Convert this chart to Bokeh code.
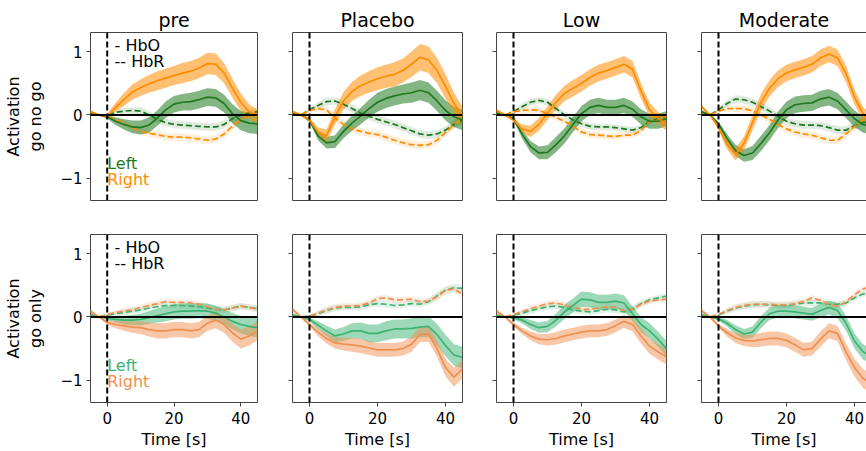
from bokeh.plotting import figure
from bokeh.layouts import row, column
from bokeh.models import Range1d, FixedTicker, LinearAxis, Span, Label
from bokeh.embed import file_html
from bokeh.resources import INLINE

# ---------------- data ----------------
TIME = [-5.0, -2.5, 0.0, 2.5, 5.0, 7.5, 10.0, 12.5, 15.0, 17.5, 20.0,
        22.5, 25.0, 27.5, 30.0, 32.5, 35.0, 37.5, 40.0, 42.5, 45.0]
CONDITIONS = ["pre", "Placebo", "Low", "Moderate"]
ROW_LABELS = ["Activation\ngo no go", "Activation\ngo only"]
Y_TICKS = [-1, 0, 1]
X_TICKS = [0, 20, 40]
X_LABEL = "Time [s]"
HB_TEXTS = ["- HbO", "-- HbR"]
SIDE_TEXTS = ["Left", "Right"]

# row 1: go no go
GNG_PRE_L_HBO = [0.03, 0.0, -0.03, -0.1, -0.15, -0.19, -0.2, -0.16, -0.05, 0.08, 0.17, 0.2, 0.21, 0.24, 0.28, 0.27, 0.18, 0.02, -0.09, -0.13, -0.14]
GNG_PRE_L_HBO_SEM = [0.03, 0.01, 0.03, 0.06, 0.08, 0.1, 0.11, 0.12, 0.12, 0.13, 0.13, 0.13, 0.14, 0.14, 0.14, 0.14, 0.14, 0.15, 0.15, 0.16, 0.16]
GNG_PRE_R_HBO = [0.05, 0.0, -0.02, 0.12, 0.24, 0.36, 0.43, 0.49, 0.54, 0.58, 0.62, 0.66, 0.69, 0.74, 0.81, 0.8, 0.66, 0.42, 0.2, 0.05, -0.03]
GNG_PRE_R_HBO_SEM = [0.03, 0.01, 0.03, 0.07, 0.1, 0.12, 0.13, 0.14, 0.15, 0.15, 0.15, 0.16, 0.16, 0.16, 0.17, 0.17, 0.16, 0.15, 0.14, 0.12, 0.11]
GNG_PRE_L_HBR = [0.02, 0.0, -0.01, 0.04, 0.06, 0.07, 0.06, 0.0, -0.07, -0.12, -0.15, -0.16, -0.17, -0.18, -0.19, -0.19, -0.15, -0.06, 0.0, 0.03, 0.05]
GNG_PRE_L_HBR_SEM = [0.02, 0.01, 0.02, 0.04, 0.05, 0.05, 0.06, 0.06, 0.06, 0.06, 0.06, 0.06, 0.06, 0.06, 0.06, 0.06, 0.06, 0.06, 0.06, 0.06, 0.06]
GNG_PRE_R_HBR = [0.02, 0.0, -0.03, -0.07, -0.13, -0.2, -0.26, -0.29, -0.31, -0.34, -0.35, -0.35, -0.36, -0.38, -0.4, -0.38, -0.3, -0.18, -0.07, 0.0, 0.05]
GNG_PRE_R_HBR_SEM = [0.02, 0.01, 0.02, 0.04, 0.05, 0.05, 0.05, 0.06, 0.06, 0.06, 0.06, 0.06, 0.06, 0.06, 0.06, 0.06, 0.06, 0.06, 0.06, 0.06, 0.06]

GNG_PLA_L_HBO = [0.02, 0.0, -0.08, -0.33, -0.44, -0.42, -0.26, -0.13, -0.02, 0.1, 0.2, 0.26, 0.3, 0.33, 0.35, 0.39, 0.35, 0.22, 0.07, -0.03, -0.08]
GNG_PLA_L_HBO_SEM = [0.03, 0.01, 0.03, 0.07, 0.09, 0.1, 0.11, 0.12, 0.13, 0.14, 0.15, 0.15, 0.15, 0.15, 0.16, 0.16, 0.16, 0.16, 0.16, 0.16, 0.16]
GNG_PLA_R_HBO = [0.05, 0.0, -0.08, -0.27, -0.33, -0.03, 0.22, 0.37, 0.46, 0.52, 0.57, 0.61, 0.64, 0.7, 0.8, 0.91, 0.87, 0.7, 0.45, 0.18, -0.02]
GNG_PLA_R_HBO_SEM = [0.03, 0.01, 0.03, 0.07, 0.1, 0.12, 0.14, 0.15, 0.16, 0.17, 0.18, 0.18, 0.19, 0.19, 0.2, 0.21, 0.21, 0.2, 0.19, 0.17, 0.15]
GNG_PLA_L_HBR = [0.02, 0.0, 0.08, 0.15, 0.21, 0.22, 0.17, 0.1, 0.03, -0.02, -0.07, -0.11, -0.15, -0.2, -0.25, -0.3, -0.32, -0.3, -0.24, -0.15, -0.08]
GNG_PLA_L_HBR_SEM = [0.02, 0.01, 0.03, 0.05, 0.06, 0.06, 0.06, 0.06, 0.06, 0.06, 0.06, 0.06, 0.06, 0.06, 0.06, 0.06, 0.06, 0.06, 0.06, 0.06, 0.06]
GNG_PLA_R_HBR = [0.02, 0.0, 0.07, 0.1, 0.08, -0.05, -0.15, -0.22, -0.26, -0.29, -0.31, -0.35, -0.4, -0.44, -0.47, -0.48, -0.47, -0.4, -0.28, -0.15, -0.06]
GNG_PLA_R_HBR_SEM = [0.02, 0.01, 0.03, 0.05, 0.06, 0.06, 0.06, 0.06, 0.06, 0.06, 0.06, 0.06, 0.06, 0.06, 0.06, 0.06, 0.06, 0.06, 0.06, 0.06, 0.06]

GNG_LOW_L_HBO = [0.03, 0.0, -0.06, -0.3, -0.5, -0.6, -0.59, -0.47, -0.33, -0.15, 0.02, 0.12, 0.15, 0.12, 0.12, 0.15, 0.09, -0.03, -0.1, -0.1, -0.06]
GNG_LOW_L_HBO_SEM = [0.03, 0.01, 0.03, 0.07, 0.09, 0.1, 0.11, 0.12, 0.12, 0.12, 0.12, 0.12, 0.12, 0.12, 0.12, 0.12, 0.12, 0.12, 0.12, 0.12, 0.12]
GNG_LOW_R_HBO = [0.07, 0.0, -0.08, -0.22, -0.26, -0.15, 0.03, 0.2, 0.34, 0.42, 0.5, 0.59, 0.66, 0.7, 0.75, 0.8, 0.72, 0.38, 0.08, -0.05, -0.15]
GNG_LOW_R_HBO_SEM = [0.03, 0.01, 0.03, 0.07, 0.09, 0.1, 0.11, 0.12, 0.12, 0.13, 0.13, 0.13, 0.13, 0.13, 0.13, 0.13, 0.13, 0.12, 0.11, 0.1, 0.1]
GNG_LOW_L_HBR = [0.02, 0.0, 0.05, 0.13, 0.2, 0.23, 0.2, 0.1, 0.0, -0.08, -0.14, -0.18, -0.19, -0.19, -0.2, -0.22, -0.24, -0.2, -0.1, -0.05, -0.03]
GNG_LOW_L_HBR_SEM = [0.02, 0.01, 0.03, 0.05, 0.05, 0.05, 0.05, 0.05, 0.05, 0.05, 0.05, 0.05, 0.05, 0.05, 0.05, 0.05, 0.05, 0.05, 0.05, 0.05, 0.05]
GNG_LOW_R_HBR = [0.02, 0.0, 0.05, 0.07, 0.08, 0.07, 0.02, -0.04, -0.1, -0.18, -0.27, -0.31, -0.32, -0.33, -0.34, -0.32, -0.32, -0.25, -0.1, -0.02, -0.03]
GNG_LOW_R_HBR_SEM = [0.02, 0.01, 0.03, 0.05, 0.05, 0.05, 0.05, 0.05, 0.05, 0.05, 0.05, 0.05, 0.05, 0.05, 0.05, 0.05, 0.05, 0.05, 0.05, 0.05, 0.05]

GNG_MOD_L_HBO = [0.05, 0.0, -0.14, -0.37, -0.56, -0.64, -0.6, -0.45, -0.28, -0.08, 0.08, 0.16, 0.18, 0.19, 0.25, 0.28, 0.22, 0.08, -0.06, -0.15, -0.18]
GNG_MOD_L_HBO_SEM = [0.03, 0.01, 0.03, 0.07, 0.09, 0.1, 0.11, 0.12, 0.12, 0.13, 0.13, 0.13, 0.13, 0.13, 0.13, 0.13, 0.13, 0.13, 0.13, 0.13, 0.13]
GNG_MOD_R_HBO = [0.13, 0.0, -0.2, -0.47, -0.62, -0.45, -0.12, 0.2, 0.42, 0.57, 0.66, 0.71, 0.75, 0.8, 0.9, 0.96, 0.9, 0.65, 0.28, 0.02, -0.1]
GNG_MOD_R_HBO_SEM = [0.03, 0.01, 0.03, 0.07, 0.1, 0.11, 0.12, 0.13, 0.13, 0.13, 0.13, 0.13, 0.13, 0.13, 0.13, 0.13, 0.13, 0.13, 0.12, 0.11, 0.1]
GNG_MOD_L_HBR = [0.02, 0.0, 0.08, 0.18, 0.25, 0.24, 0.2, 0.13, 0.06, -0.02, -0.1, -0.14, -0.16, -0.16, -0.17, -0.2, -0.24, -0.24, -0.17, -0.12, -0.1]
GNG_MOD_L_HBR_SEM = [0.02, 0.01, 0.03, 0.05, 0.06, 0.06, 0.06, 0.06, 0.06, 0.06, 0.06, 0.06, 0.06, 0.06, 0.06, 0.06, 0.06, 0.06, 0.06, 0.06, 0.06]
GNG_MOD_R_HBR = [0.02, 0.0, 0.06, 0.1, 0.1, 0.1, 0.06, 0.0, -0.07, -0.15, -0.22, -0.27, -0.3, -0.32, -0.36, -0.4, -0.4, -0.3, -0.18, -0.08, -0.03]
GNG_MOD_R_HBR_SEM = [0.02, 0.01, 0.03, 0.05, 0.06, 0.06, 0.06, 0.06, 0.06, 0.06, 0.06, 0.06, 0.06, 0.06, 0.06, 0.06, 0.06, 0.06, 0.06, 0.06, 0.06]

# row 2: go only
GO_PRE_L_HBO = [0.03, 0.0, -0.02, -0.04, -0.05, -0.05, -0.04, -0.01, 0.02, 0.05, 0.08, 0.09, 0.09, 0.1, 0.09, 0.06, 0.0, -0.07, -0.12, -0.15, -0.17]
GO_PRE_L_HBO_SEM = [0.03, 0.01, 0.03, 0.05, 0.07, 0.08, 0.09, 0.1, 0.11, 0.12, 0.12, 0.12, 0.12, 0.12, 0.12, 0.12, 0.12, 0.13, 0.14, 0.15, 0.15]
GO_PRE_R_HBO = [0.09, 0.0, -0.09, -0.12, -0.14, -0.16, -0.17, -0.2, -0.22, -0.22, -0.2, -0.2, -0.22, -0.2, -0.1, -0.05, -0.12, -0.25, -0.35, -0.3, -0.22]
GO_PRE_R_HBO_SEM = [0.03, 0.01, 0.03, 0.06, 0.08, 0.09, 0.1, 0.11, 0.12, 0.12, 0.12, 0.12, 0.12, 0.12, 0.12, 0.13, 0.13, 0.14, 0.15, 0.15, 0.15]
GO_PRE_L_HBR = [0.02, 0.0, 0.03, 0.05, 0.07, 0.09, 0.11, 0.14, 0.16, 0.18, 0.18, 0.18, 0.17, 0.16, 0.14, 0.12, 0.11, 0.14, 0.17, 0.15, 0.13]
GO_PRE_L_HBR_SEM = [0.02, 0.01, 0.02, 0.04, 0.05, 0.05, 0.05, 0.05, 0.05, 0.05, 0.05, 0.05, 0.05, 0.05, 0.05, 0.05, 0.05, 0.05, 0.05, 0.05, 0.05]
GO_PRE_R_HBR = [0.03, 0.0, 0.04, 0.07, 0.09, 0.11, 0.15, 0.18, 0.21, 0.24, 0.23, 0.23, 0.22, 0.2, 0.16, 0.12, 0.11, 0.14, 0.17, 0.15, 0.12]
GO_PRE_R_HBR_SEM = [0.02, 0.01, 0.02, 0.04, 0.05, 0.05, 0.05, 0.05, 0.05, 0.05, 0.05, 0.05, 0.05, 0.05, 0.05, 0.05, 0.05, 0.05, 0.05, 0.05, 0.05]

GO_PLA_L_HBO = [0.03, 0.0, -0.04, -0.13, -0.22, -0.3, -0.27, -0.22, -0.22, -0.26, -0.26, -0.22, -0.19, -0.19, -0.18, -0.16, -0.15, -0.28, -0.45, -0.6, -0.64]
GO_PLA_L_HBO_SEM = [0.03, 0.01, 0.03, 0.06, 0.08, 0.1, 0.11, 0.12, 0.13, 0.14, 0.14, 0.15, 0.15, 0.15, 0.16, 0.16, 0.17, 0.17, 0.17, 0.17, 0.17]
GO_PLA_R_HBO = [0.12, 0.0, -0.12, -0.24, -0.34, -0.41, -0.43, -0.44, -0.46, -0.49, -0.52, -0.52, -0.52, -0.5, -0.43, -0.28, -0.27, -0.5, -0.8, -0.95, -0.82]
GO_PLA_R_HBO_SEM = [0.03, 0.01, 0.03, 0.06, 0.08, 0.09, 0.1, 0.11, 0.11, 0.11, 0.11, 0.11, 0.11, 0.11, 0.12, 0.12, 0.12, 0.13, 0.14, 0.15, 0.15]
GO_PLA_L_HBR = [0.02, 0.0, 0.01, 0.05, 0.1, 0.14, 0.15, 0.15, 0.16, 0.19, 0.21, 0.2, 0.18, 0.19, 0.21, 0.2, 0.24, 0.33, 0.42, 0.46, 0.45]
GO_PLA_L_HBR_SEM = [0.02, 0.01, 0.02, 0.04, 0.05, 0.05, 0.05, 0.05, 0.05, 0.05, 0.05, 0.05, 0.05, 0.05, 0.05, 0.05, 0.05, 0.06, 0.06, 0.06, 0.06]
GO_PLA_R_HBR = [0.03, 0.0, 0.01, 0.06, 0.11, 0.15, 0.17, 0.17, 0.18, 0.22, 0.29, 0.3, 0.27, 0.27, 0.28, 0.24, 0.25, 0.32, 0.42, 0.44, 0.36]
GO_PLA_R_HBR_SEM = [0.02, 0.01, 0.02, 0.04, 0.05, 0.05, 0.05, 0.05, 0.05, 0.05, 0.05, 0.05, 0.05, 0.05, 0.05, 0.05, 0.05, 0.06, 0.06, 0.06, 0.06]

GO_LOW_L_HBO = [0.02, 0.0, -0.01, -0.05, -0.12, -0.17, -0.15, -0.05, 0.08, 0.18, 0.28, 0.27, 0.23, 0.23, 0.25, 0.22, 0.05, -0.12, -0.22, -0.35, -0.5]
GO_LOW_L_HBO_SEM = [0.03, 0.01, 0.03, 0.05, 0.07, 0.08, 0.09, 0.1, 0.11, 0.11, 0.12, 0.12, 0.12, 0.12, 0.12, 0.12, 0.12, 0.12, 0.12, 0.12, 0.12]
GO_LOW_R_HBO = [0.09, 0.0, -0.12, -0.22, -0.3, -0.35, -0.36, -0.34, -0.3, -0.27, -0.24, -0.22, -0.22, -0.2, -0.14, -0.07, -0.12, -0.3, -0.46, -0.55, -0.63]
GO_LOW_R_HBO_SEM = [0.03, 0.01, 0.03, 0.05, 0.07, 0.08, 0.09, 0.1, 0.1, 0.1, 0.1, 0.1, 0.1, 0.1, 0.1, 0.1, 0.11, 0.12, 0.12, 0.12, 0.12]
GO_LOW_L_HBR = [0.02, 0.0, 0.03, 0.06, 0.1, 0.13, 0.16, 0.17, 0.15, 0.11, 0.09, 0.08, 0.1, 0.12, 0.11, 0.08, 0.12, 0.21, 0.27, 0.3, 0.33]
GO_LOW_L_HBR_SEM = [0.02, 0.01, 0.02, 0.04, 0.05, 0.05, 0.05, 0.05, 0.05, 0.05, 0.05, 0.05, 0.05, 0.05, 0.05, 0.05, 0.05, 0.05, 0.05, 0.05, 0.05]
GO_LOW_R_HBR = [0.03, 0.0, 0.04, 0.08, 0.13, 0.17, 0.21, 0.22, 0.19, 0.15, 0.12, 0.12, 0.14, 0.16, 0.15, 0.1, 0.12, 0.2, 0.25, 0.27, 0.28]
GO_LOW_R_HBR_SEM = [0.02, 0.01, 0.02, 0.04, 0.05, 0.05, 0.05, 0.05, 0.05, 0.05, 0.05, 0.05, 0.05, 0.05, 0.05, 0.05, 0.05, 0.05, 0.05, 0.05, 0.05]

GO_MOD_L_HBO = [0.03, 0.0, -0.03, -0.1, -0.2, -0.27, -0.24, -0.08, 0.05, 0.09, 0.09, 0.08, 0.06, 0.04, 0.1, 0.15, 0.1, -0.1, -0.38, -0.55, -0.62]
GO_MOD_L_HBO_SEM = [0.03, 0.01, 0.03, 0.05, 0.07, 0.08, 0.09, 0.1, 0.1, 0.1, 0.1, 0.1, 0.1, 0.1, 0.11, 0.11, 0.12, 0.12, 0.12, 0.12, 0.12]
GO_MOD_R_HBO = [0.1, 0.0, -0.14, -0.25, -0.33, -0.37, -0.38, -0.36, -0.34, -0.34, -0.37, -0.44, -0.52, -0.5, -0.35, -0.22, -0.26, -0.55, -0.8, -0.97, -1.05]
GO_MOD_R_HBO_SEM = [0.03, 0.01, 0.03, 0.06, 0.08, 0.09, 0.1, 0.11, 0.11, 0.11, 0.11, 0.11, 0.11, 0.11, 0.12, 0.12, 0.12, 0.13, 0.14, 0.15, 0.15]
GO_MOD_L_HBR = [0.02, 0.0, 0.03, 0.09, 0.14, 0.17, 0.19, 0.2, 0.19, 0.18, 0.18, 0.2, 0.22, 0.22, 0.22, 0.2, 0.2, 0.22, 0.3, 0.36, 0.4]
GO_MOD_L_HBR_SEM = [0.02, 0.01, 0.02, 0.04, 0.05, 0.05, 0.05, 0.05, 0.05, 0.05, 0.05, 0.05, 0.05, 0.05, 0.05, 0.05, 0.05, 0.05, 0.05, 0.05, 0.05]
GO_MOD_R_HBR = [0.03, 0.0, 0.04, 0.1, 0.15, 0.18, 0.2, 0.2, 0.2, 0.19, 0.19, 0.21, 0.24, 0.3, 0.26, 0.2, 0.17, 0.24, 0.35, 0.44, 0.48]
GO_MOD_R_HBR_SEM = [0.02, 0.01, 0.02, 0.04, 0.05, 0.05, 0.05, 0.05, 0.05, 0.05, 0.05, 0.05, 0.05, 0.05, 0.05, 0.05, 0.05, 0.05, 0.05, 0.05, 0.05]

ROWS = [
    [  # go no go
        (GNG_PRE_L_HBO, GNG_PRE_L_HBO_SEM, GNG_PRE_R_HBO, GNG_PRE_R_HBO_SEM, GNG_PRE_L_HBR, GNG_PRE_L_HBR_SEM, GNG_PRE_R_HBR, GNG_PRE_R_HBR_SEM),
        (GNG_PLA_L_HBO, GNG_PLA_L_HBO_SEM, GNG_PLA_R_HBO, GNG_PLA_R_HBO_SEM, GNG_PLA_L_HBR, GNG_PLA_L_HBR_SEM, GNG_PLA_R_HBR, GNG_PLA_R_HBR_SEM),
        (GNG_LOW_L_HBO, GNG_LOW_L_HBO_SEM, GNG_LOW_R_HBO, GNG_LOW_R_HBO_SEM, GNG_LOW_L_HBR, GNG_LOW_L_HBR_SEM, GNG_LOW_R_HBR, GNG_LOW_R_HBR_SEM),
        (GNG_MOD_L_HBO, GNG_MOD_L_HBO_SEM, GNG_MOD_R_HBO, GNG_MOD_R_HBO_SEM, GNG_MOD_L_HBR, GNG_MOD_L_HBR_SEM, GNG_MOD_R_HBR, GNG_MOD_R_HBR_SEM),
    ],
    [  # go only
        (GO_PRE_L_HBO, GO_PRE_L_HBO_SEM, GO_PRE_R_HBO, GO_PRE_R_HBO_SEM, GO_PRE_L_HBR, GO_PRE_L_HBR_SEM, GO_PRE_R_HBR, GO_PRE_R_HBR_SEM),
        (GO_PLA_L_HBO, GO_PLA_L_HBO_SEM, GO_PLA_R_HBO, GO_PLA_R_HBO_SEM, GO_PLA_L_HBR, GO_PLA_L_HBR_SEM, GO_PLA_R_HBR, GO_PLA_R_HBR_SEM),
        (GO_LOW_L_HBO, GO_LOW_L_HBO_SEM, GO_LOW_R_HBO, GO_LOW_R_HBO_SEM, GO_LOW_L_HBR, GO_LOW_L_HBR_SEM, GO_LOW_R_HBR, GO_LOW_R_HBR_SEM),
        (GO_MOD_L_HBO, GO_MOD_L_HBO_SEM, GO_MOD_R_HBO, GO_MOD_R_HBO_SEM, GO_MOD_L_HBR, GO_MOD_L_HBR_SEM, GO_MOD_R_HBR, GO_MOD_R_HBR_SEM),
    ],
]

# ---------------- style ----------------
FONT = "DejaVu Sans"
ROW_COLORS = [("#1f7a1f", "#ff8c00"), ("#3cb371", "#f09050")]
HBO_ALPHA = [0.55, 0.5]
HBR_ALPHA = 0.15
SPINE = "#444444"
X_START, X_END = -5, 45
Y_START, Y_END = -1.35, 1.3
FRAME_W = 170
LEFT_BORDERS = [87, 25, 24, 25]
LAST_FRAME_W = 165


def spine_axis():
    return LinearAxis(ticker=FixedTicker(ticks=[]), axis_line_color=SPINE,
                      axis_line_width=1, major_tick_line_color=None,
                      minor_tick_line_color=None)


def make_panel(r, c):
    last = (c == 3)
    fw = LAST_FRAME_W if last else FRAME_W
    left = LEFT_BORDERS[c]
    right = 0 if last else 10
    top = 32 if r == 0 else 17
    fh = 168 if r == 0 else 169
    bottom = 17 if r == 0 else 48
    x_end = X_START + (X_END - X_START) * fw / FRAME_W
    p = figure(width=left + fw + right, height=top + fh + bottom,
               x_range=Range1d(X_START, x_end), y_range=Range1d(Y_START, Y_END),
               output_backend="svg", toolbar_location=None,
               min_border_left=left, min_border_right=right,
               min_border_top=top, min_border_bottom=bottom,
               title=CONDITIONS[c] if r == 0 else None)
    p.grid.visible = False
    p.background_fill_color = "white"
    p.border_fill_color = "white"
    if r == 0:
        p.title.text_font = FONT
        p.title.text_font_size = "19px"
        p.title.text_font_style = "normal"
        p.title.align = "center"
        p.title.standoff = 3
        p.title.text_color = "black"

    # y axis
    ya = p.yaxis[0]
    ya.ticker = FixedTicker(ticks=Y_TICKS)
    if c == 0:
        ya.major_label_overrides = {-1: "\u22121", 0: "0", 1: "1"}
        ya.axis_label = ROW_LABELS[r]
        ya.axis_label_text_font = FONT
        ya.axis_label_text_font_size = "16px"
        ya.axis_label_text_font_style = "normal"
        ya.axis_label_text_color = "black"
        ya.axis_label_standoff = 12
    else:
        ya.major_label_overrides = {-1: "", 0: "", 1: ""}
    ya.major_label_text_font = FONT
    ya.major_label_text_font_size = "15px"
    ya.major_label_text_color = "black"
    ya.major_label_standoff = 4
    ya.major_tick_out = 4
    ya.major_tick_in = 0
    ya.major_tick_line_color = SPINE
    ya.minor_tick_line_color = None

    xa = p.xaxis[0]
    if r == 1:
        xa.ticker = FixedTicker(ticks=X_TICKS)
        xa.axis_label = X_LABEL
        xa.axis_label_text_font = FONT
        xa.axis_label_text_font_size = "16px"
        xa.axis_label_text_font_style = "normal"
        xa.axis_label_text_color = "black"
        xa.axis_label_standoff = 3
        xa.major_label_text_font = FONT
        xa.major_label_text_font_size = "15px"
        xa.major_label_text_color = "black"
        xa.major_label_standoff = 5
        xa.major_tick_out = 4
        xa.major_tick_in = 0
        xa.major_tick_line_color = SPINE
        xa.minor_tick_line_color = None
    else:
        xa.ticker = FixedTicker(ticks=[])
        xa.major_tick_line_color = None
        xa.minor_tick_line_color = None

    if last:
        p.outline_line_color = None
        ya.axis_line_color = SPINE
        xa.axis_line_color = SPINE
        p.add_layout(spine_axis(), "above")
    else:
        p.outline_line_color = SPINE
        p.outline_line_width = 1
        p.outline_line_alpha = 1
        ya.axis_line_color = None
        xa.axis_line_color = None
        if r == 0:
            xa.visible = False

    # data
    l_hbo, l_hbo_s, r_hbo, r_hbo_s, l_hbr, l_hbr_s, r_hbr, r_hbr_s = ROWS[r][c]
    green, orange = ROW_COLORS[r]
    series = [
        (l_hbr, l_hbr_s, green, HBR_ALPHA, "6 3"),
        (r_hbr, r_hbr_s, orange, HBR_ALPHA, "6 3"),
        (l_hbo, l_hbo_s, green, HBO_ALPHA[r], "solid"),
        (r_hbo, r_hbo_s, orange, HBO_ALPHA[r], "solid"),
    ]
    for mean, sem, col, alpha, dash in series:
        lower = [m - s for m, s in zip(mean, sem)]
        upper = [m + s for m, s in zip(mean, sem)]
        p.varea(x=TIME, y1=lower, y2=upper, fill_color=col, fill_alpha=alpha)
    for mean, sem, col, alpha, dash in series:
        p.line(TIME, mean, line_color=col, line_width=1.7, line_dash=dash)

    p.add_layout(Span(location=0, dimension="width", line_color="black", line_width=2))
    p.add_layout(Span(location=0, dimension="height", line_color="black",
                      line_width=2, line_dash="6 3"))

    if c == 0:
        for txt, yv in zip(HB_TEXTS, [1.1, 0.84]):
            p.add_layout(Label(x=2.2, y=yv, text=txt, text_font=FONT,
                               text_font_size="16px", text_color="black",
                               text_baseline="middle", text_align="left"))
        for txt, yv, col in zip(SIDE_TEXTS, [-0.77, -1.02], [green, orange]):
            p.add_layout(Label(x=0.0, y=yv, text=txt, text_font=FONT,
                               text_font_size="16px", text_color=col,
                               text_baseline="middle", text_align="left"))
    return p


rows = []
for r in range(2):
    rows.append(row(*[make_panel(r, c) for c in range(4)], spacing=0))
layout = column(*rows, spacing=0)

open("out.html", "w").write(file_html(layout, INLINE))
